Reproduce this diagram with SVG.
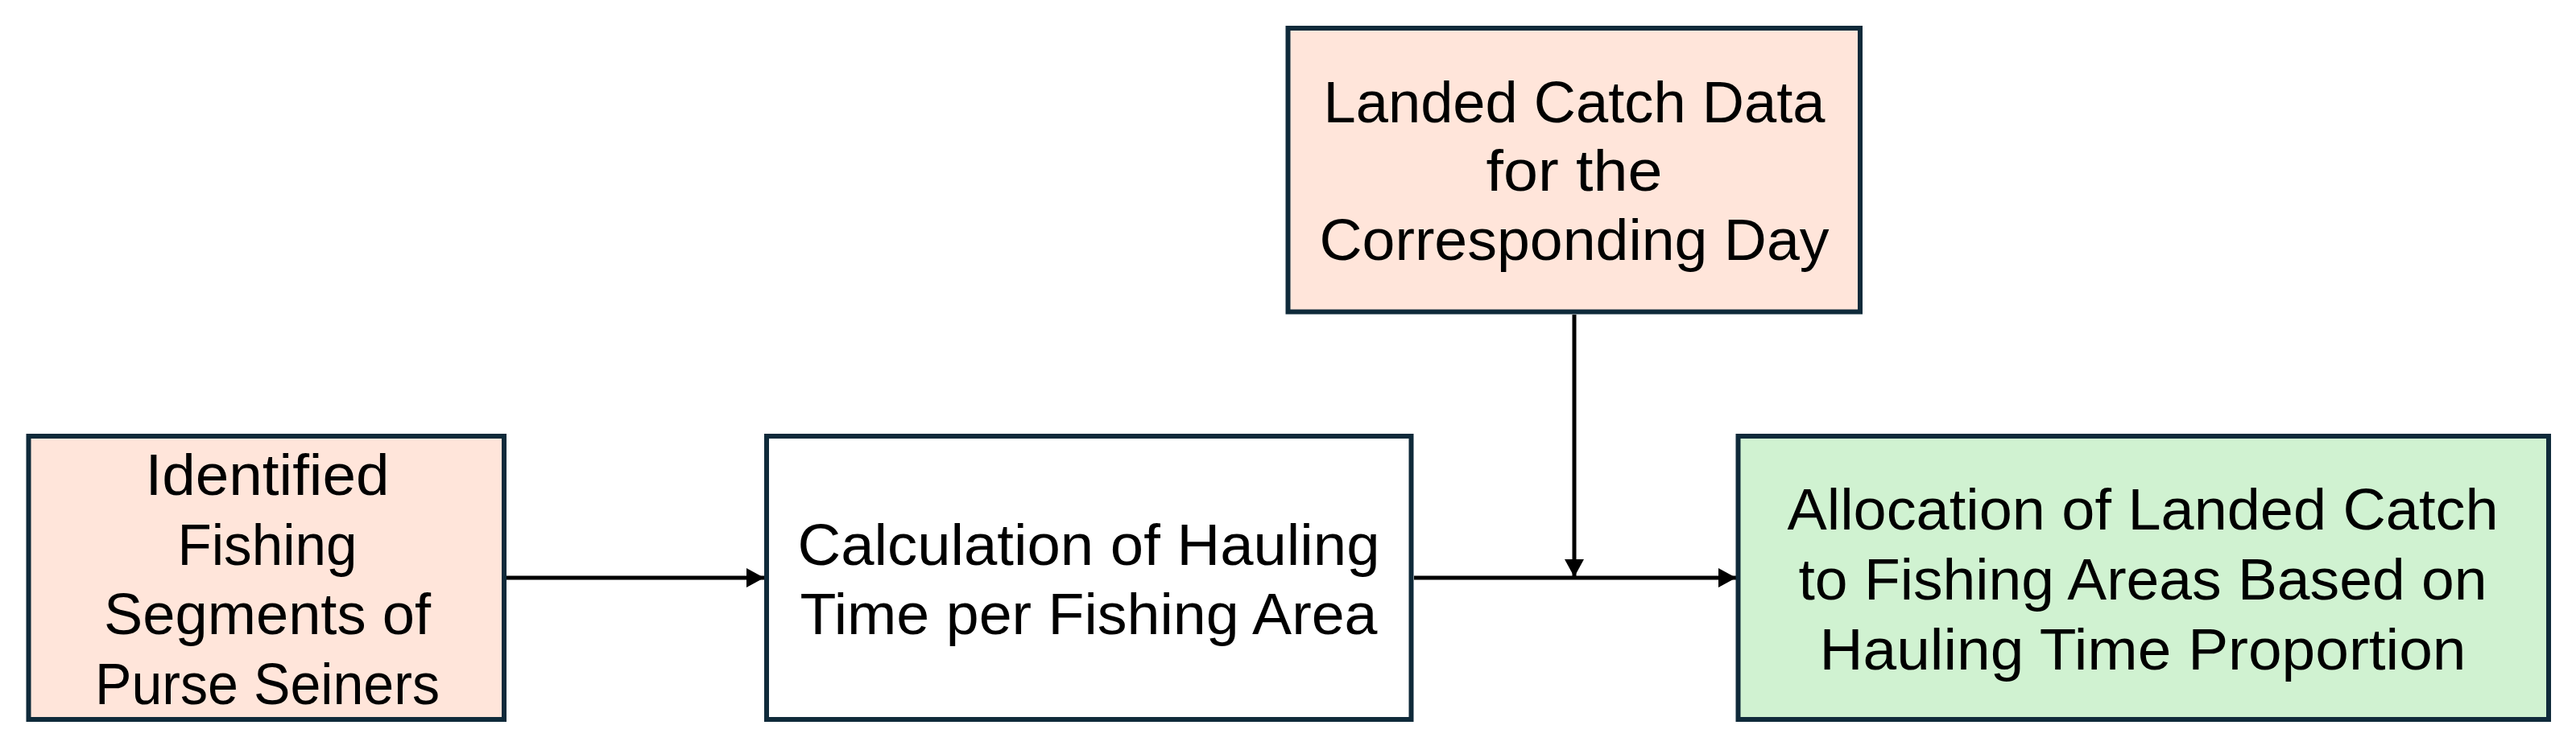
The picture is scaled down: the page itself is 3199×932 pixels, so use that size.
<svg xmlns="http://www.w3.org/2000/svg" width="3199" height="932" viewBox="0 0 3199 932">
  <style>
    .box { stroke: #0F2A3A; stroke-width: 6; }
    .peach { fill: #FFE5DA; }
    .white { fill: #FFFFFF; }
    .green { fill: #D0F2D1; }
    .lbl { font-family: "Liberation Sans", Arial, sans-serif; font-size: 72px; fill: #000; text-anchor: middle; }
    .conn { stroke: #000; stroke-width: 5; fill: none; marker-end: url(#arrow); }
  </style>
  <defs>
    <marker id="arrow" markerUnits="userSpaceOnUse" markerWidth="22" markerHeight="24" refX="22" refY="12" orient="auto">
      <path d="M0,0 L22,12 L0,24 Z" fill="#000"/>
    </marker>
  </defs>
  <rect width="3199" height="932" fill="#FFFFFF"/>

  <g id="connectors">
    <line class="conn" x1="629" y1="718" x2="949" y2="718"/>
    <line class="conn" x1="1756" y1="718" x2="2156" y2="718"/>
    <line class="conn" x1="1955" y1="391" x2="1955" y2="717"/>
  </g>

  <g id="node-identified">
    <rect class="box peach" x="35.5" y="542" width="590.5" height="352"/>
    <text class="lbl" x="332" y="615" textLength="303" lengthAdjust="spacingAndGlyphs">Identified</text>
    <text class="lbl" x="332" y="702" textLength="223" lengthAdjust="spacingAndGlyphs">Fishing</text>
    <text class="lbl" x="332" y="788" textLength="406" lengthAdjust="spacingAndGlyphs">Segments of</text>
    <text class="lbl" x="332" y="875" textLength="428" lengthAdjust="spacingAndGlyphs">Purse Seiners</text>
  </g>

  <g id="node-calculation">
    <rect class="box white" x="952" y="542" width="800.5" height="352"/>
    <text class="lbl" x="1352" y="702" textLength="723" lengthAdjust="spacingAndGlyphs">Calculation of Hauling</text>
    <text class="lbl" x="1352" y="788" textLength="717" lengthAdjust="spacingAndGlyphs">Time per Fishing Area</text>
  </g>

  <g id="node-landed">
    <rect class="box peach" x="1599.5" y="35" width="710.5" height="352.5"/>
    <text class="lbl" x="1955" y="152" textLength="623" lengthAdjust="spacingAndGlyphs">Landed Catch Data</text>
    <text class="lbl" x="1955" y="237" textLength="219" lengthAdjust="spacingAndGlyphs">for the</text>
    <text class="lbl" x="1955" y="323" textLength="633" lengthAdjust="spacingAndGlyphs">Corresponding Day</text>
  </g>

  <g id="node-allocation">
    <rect class="box green" x="2158.5" y="542" width="1006.5" height="352"/>
    <text class="lbl" x="2661" y="658" textLength="883" lengthAdjust="spacingAndGlyphs">Allocation of Landed Catch</text>
    <text class="lbl" x="2661" y="745" textLength="855" lengthAdjust="spacingAndGlyphs">to Fishing Areas Based on</text>
    <text class="lbl" x="2661" y="832" textLength="803" lengthAdjust="spacingAndGlyphs">Hauling Time Proportion</text>
  </g>
</svg>
